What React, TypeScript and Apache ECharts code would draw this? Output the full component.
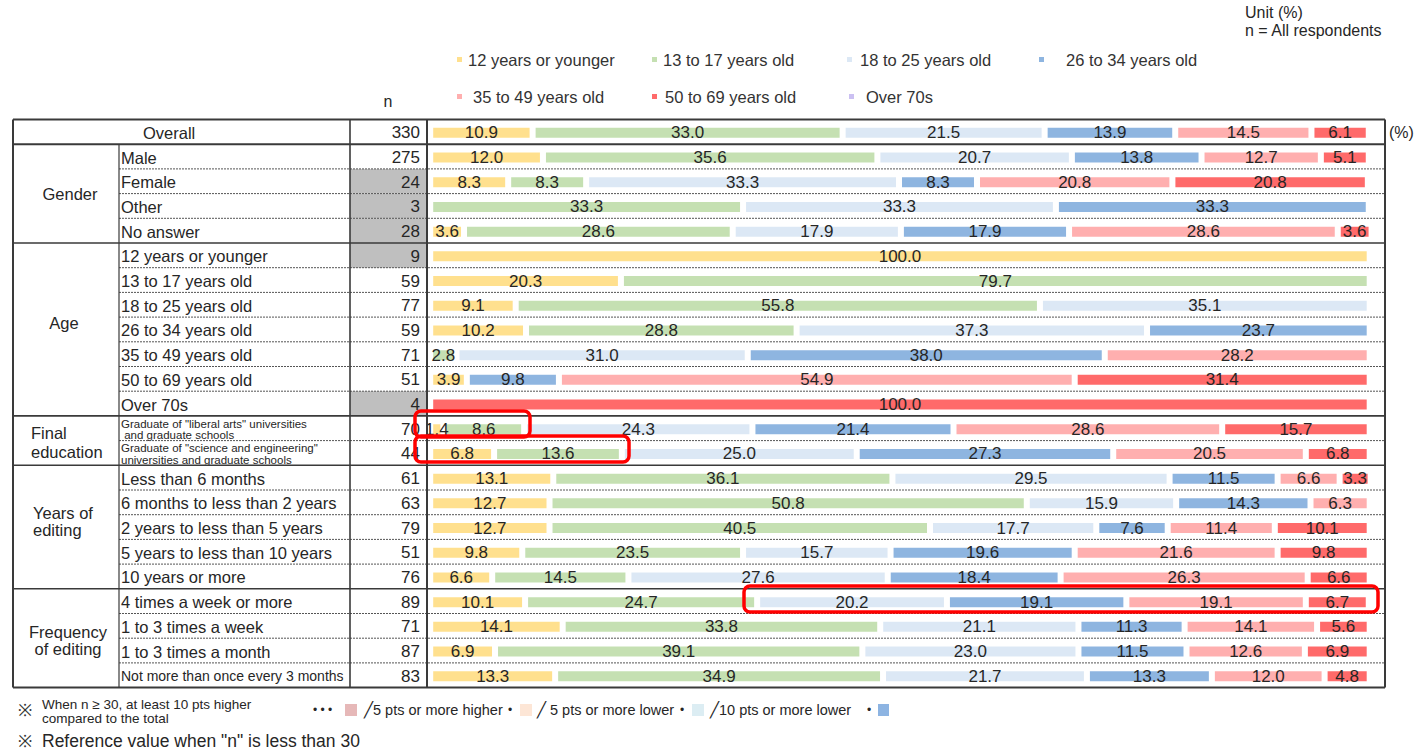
import React, { useEffect, useRef } from "react";
import * as echarts from "echarts";

const CATEGORIES = [
  "Overall",
  "Male",
  "Female",
  "Other",
  "No answer",
  "12 years or younger",
  "13 to 17 years old",
  "18 to 25 years old",
  "26 to 34 years old",
  "35 to 49 years old",
  "50 to 69 years old",
  "Over 70s",
  'Graduate of "liberal arts" universities\n and graduate schools',
  'Graduate of "science and engineering"\nuniversities and graduate schools',
  "Less than 6 months",
  "6 months to less than 2 years",
  "2 years to less than 5 years",
  "5 years to less than 10 years",
  "10 years or more",
  "4 times a week or more",
  "1 to 3 times a week",
  "1 to 3 times a month",
  "Not more than once every 3 months",
];

const N_VALUES = [330, 275, 24, 3, 28, 9, 59, 77, 59, 71, 51, 4, 70, 44, 61, 63, 79, 51, 76, 89, 71, 87, 83];

const SERIES_NAMES = [
  "12 years or younger",
  "13 to 17 years old",
  "18 to 25 years old",
  "26 to 34 years old",
  "35 to 49 years old",
  "50 to 69 years old",
  "Over 70s",
];

const AGE_12 = [10.9, 12.0, 8.3, null, 3.6, 100.0, 20.3, 9.1, 10.2, null, 3.9, null, 1.4, 6.8, 13.1, 12.7, 12.7, 9.8, 6.6, 10.1, 14.1, 6.9, 13.3];
const AGE_13 = [33.0, 35.6, 8.3, 33.3, 28.6, null, 79.7, 55.8, 28.8, 2.8, null, null, 8.6, 13.6, 36.1, 50.8, 40.5, 23.5, 14.5, 24.7, 33.8, 39.1, 34.9];
const AGE_18 = [21.5, 20.7, 33.3, 33.3, 17.9, null, null, 35.1, 37.3, 31.0, null, null, 24.3, 25.0, 29.5, 15.9, 17.7, 15.7, 27.6, 20.2, 21.1, 23.0, 21.7];
const AGE_26 = [13.9, 13.8, 8.3, 33.3, 17.9, null, null, null, 23.7, 38.0, 9.8, null, 21.4, 27.3, 11.5, 14.3, 7.6, 19.6, 18.4, 19.1, 11.3, 11.5, 13.3];
const AGE_35 = [14.5, 12.7, 20.8, null, 28.6, null, null, null, null, 28.2, 54.9, null, 28.6, 20.5, 6.6, 6.3, 11.4, 21.6, 26.3, 19.1, 14.1, 12.6, 12.0];
const AGE_50 = [6.1, 5.1, 20.8, null, 3.6, null, null, null, null, null, 31.4, 100.0, 15.7, 6.8, 3.3, null, 10.1, 9.8, 6.6, 6.7, 5.6, 6.9, 4.8];
const AGE_70 = [null, null, null, null, null, null, null, null, null, null, null, null, null, null, null, null, null, null, null, null, null, null, null];

const SERIES_DATA = [AGE_12, AGE_13, AGE_18, AGE_26, AGE_35, AGE_50, AGE_70];
const COLORS = ["#ffe08e", "#c5e0b2", "#dce8f5", "#8eb5e0", "#ffafaf", "#ff6a6a", "#cbc0f2"];

const GREY_N_ROWS = [2, 3, 4, 5, 11];

const FONT = "'Liberation Sans', Arial, Helvetica, sans-serif";

// layout
const TABLE_TOP = 119.5;
const ROW_H = 24.7;
const ROWS = CATEGORIES.length;
const TABLE_BOTTOM = TABLE_TOP + ROW_H * ROWS;
const X_LEFT = 13;
const X_COL1 = 119;
const X_COL2 = 350;
const X_COL3 = 427;
const X_RIGHT = 1385;
const GRID_LEFT = 430.2;
const X_MAX = 102;
const GRID_W = X_MAX * 9.395;

const rowY = (i: number) => TABLE_TOP + i * ROW_H;

export default function App() {
  const ref = useRef<HTMLDivElement>(null);

  useEffect(() => {
    document.body.style.margin = "0";
    if (!ref.current) return;
    const chart = echarts.init(ref.current, undefined, { renderer: "svg" });

    const series = SERIES_NAMES.map((name, si) => ({
      type: "bar",
      name,
      stack: "total",
      yAxisIndex: 0,
      barWidth: 16,
      data: SERIES_DATA[si],
      itemStyle: { color: COLORS[si], borderColor: "#ffffff", borderWidth: 3 },
      label: {
        show: true,
        position: "inside",
        color: "#262626",
        fontSize: 17,
        fontFamily: FONT,
        formatter: (p: any) => (p.value == null ? "" : Number(p.value).toFixed(1)),
      },
      emphasis: { disabled: true },
      silent: true,
    }));

    const legendPos = [
      { left: 455, top: 51, pad: 0 },
      { left: 650, top: 51, pad: 0 },
      { left: 845, top: 51, pad: 2 },
      { left: 1037, top: 51, pad: 16 },
      { left: 455, top: 88, pad: 5 },
      { left: 650, top: 88, pad: 2 },
      { left: 847, top: 88, pad: 6 },
    ];
    const legends = SERIES_NAMES.map((name, i) => ({
      data: [name],
      left: legendPos[i].left,
      top: legendPos[i].top,
      padding: 0,
      icon: "rect",
      itemWidth: 7,
      itemHeight: 7,
      selectedMode: false,
      textStyle: {
        fontSize: 16.5,
        color: "#333",
        fontFamily: FONT,
        padding: [0, 0, 0, legendPos[i].pad],
      },
    }));

    const graphics: any[] = [];

    // grey n cells
    GREY_N_ROWS.forEach((r) => {
      graphics.push({
        type: "rect",
        shape: { x: X_COL2, y: rowY(r), width: X_COL3 - X_COL2, height: ROW_H },
        style: { fill: "#bfbfbf" },
        z: 0,
      });
    });

    // horizontal lines
    const solidRows = [5, 12, 14, 19];
    for (let i = 0; i <= ROWS; i++) {
      const y = rowY(i);
      if (i === 0 || i === 1 || i === ROWS) {
        graphics.push({
          type: "line",
          shape: { x1: X_LEFT, y1: y, x2: X_RIGHT, y2: y },
          style: { stroke: "#3a3a3a", lineWidth: 2 },
          z: 5,
        });
      } else if (solidRows.includes(i)) {
        graphics.push({
          type: "line",
          shape: { x1: X_LEFT, y1: y, x2: X_RIGHT, y2: y },
          style: { stroke: "#3a3a3a", lineWidth: 1.6 },
          z: 5,
        });
      } else {
        graphics.push({
          type: "line",
          shape: { x1: X_COL1, y1: y, x2: X_RIGHT, y2: y },
          style: { stroke: "#555", lineWidth: 1, lineDash: [2, 1] },
          z: 5,
        });
      }
    }

    // vertical lines
    const vlines = [
      { x: X_LEFT, y1: rowY(0), w: 2 },
      { x: X_COL1, y1: rowY(1), w: 1.2 },
      { x: X_COL2, y1: rowY(0), w: 1.6 },
      { x: X_COL3, y1: rowY(0), w: 2 },
      { x: X_RIGHT, y1: rowY(0), w: 2 },
    ];
    vlines.forEach((v) => {
      graphics.push({
        type: "line",
        shape: { x1: v.x, y1: v.y1, x2: v.x, y2: TABLE_BOTTOM },
        style: { stroke: "#3a3a3a", lineWidth: v.w },
        z: 5,
      });
    });

    const txt = (text: string, x: number, y: number, opts: any = {}) => ({
      type: "text",
      x,
      y,
      z: 6,
      style: {
        text,
        fill: "#262626",
        fontSize: 16,
        fontFamily: FONT,
        align: "left",
        verticalAlign: "middle",
        ...opts,
      },
    });

    // group labels
    graphics.push(txt("Gender", 70, (rowY(1) + rowY(5)) / 2, { align: "center", fontSize: 16.5 }));
    graphics.push(txt("Age", 64, (rowY(5) + rowY(12)) / 2 - 6, { align: "center", fontSize: 16.5 }));
    graphics.push(txt("Final\neducation", 31, (rowY(12) + rowY(14)) / 2 + 2, { lineHeight: 19, fontSize: 16.5 }));
    graphics.push(txt("Years of\nediting", 33, (rowY(14) + rowY(19)) / 2 - 6, { lineHeight: 17, fontSize: 16.5 }));
    graphics.push(txt("Frequency\nof editing", 68, (rowY(19) + rowY(23)) / 2 + 2, { align: "center", lineHeight: 17, fontSize: 16.5 }));

    // headers
    graphics.push(txt("n", 388, 101, { align: "center" }));
    graphics.push(txt("Unit (%)", 1245, 12, { fontSize: 16 }));
    graphics.push(txt("n = All respondents", 1245, 30, { fontSize: 16 }));
    graphics.push(txt("(%)", 1389, 132, { fontSize: 16 }));

    // footer
    graphics.push(txt("※", 18, 710, { fontSize: 17, fill: "#333" }));
    graphics.push(txt("When n ≥ 30, at least 10 pts higher\ncompared to the total", 42, 711.5, { fontSize: 13.5, lineHeight: 14 }));
    graphics.push(txt("※", 18, 741, { fontSize: 17, fill: "#333" }));
    graphics.push(txt('Reference value when "n" is less than 30', 42, 741, { fontSize: 17.5 }));

    graphics.push(txt("• • •", 313, 710, { fontSize: 12 }));
    graphics.push({ type: "rect", shape: { x: 345, y: 704, width: 12, height: 12 }, style: { fill: "#e6b8b8" }, z: 6 });
    graphics.push(txt("╱5 pts or more higher", 364, 710, { fontSize: 14.5 }));
    graphics.push(txt("•", 508, 710, { fontSize: 12 }));
    graphics.push({ type: "rect", shape: { x: 520, y: 704, width: 12, height: 12 }, style: { fill: "#fde6d6" }, z: 6 });
    graphics.push(txt("╱ 5 pts or more lower", 537, 710, { fontSize: 14.5 }));
    graphics.push(txt("•", 680, 710, { fontSize: 12 }));
    graphics.push({ type: "rect", shape: { x: 692, y: 704, width: 12, height: 12 }, style: { fill: "#dcedf3" }, z: 6 });
    graphics.push(txt("╱10 pts or more lower", 710, 710, { fontSize: 14.5 }));
    graphics.push(txt("•", 867, 710, { fontSize: 12 }));
    graphics.push({ type: "rect", shape: { x: 878, y: 704, width: 11, height: 12 }, style: { fill: "#8db4e2" }, z: 6 });

    // highlight boxes
    const boxes = [
      { x: 415, y: 411, w: 115, h: 26 },
      { x: 415, y: 436, w: 214, h: 26 },
      { x: 744, y: 586, w: 634, h: 26 },
    ];
    boxes.forEach((b) => {
      graphics.push({
        type: "rect",
        shape: { x: b.x, y: b.y, width: b.w, height: b.h, r: 6 },
        style: { fill: "none", stroke: "#ff0000", lineWidth: 3.5 },
        z: 20,
      });
    });

    const itemLabelFormatter = (value: string, idx: number) => {
      if (idx === 0) return "{ov|" + value + "}";
      if (idx === 12 || idx === 13) {
        return value
          .split("\n")
          .map((l) => "{sm|" + l + "}")
          .join("\n");
      }
      if (idx === 22) return "{xs|" + value + "}";
      return "{lb|" + value + "}";
    };

    const option: any = {
      animation: false,
      backgroundColor: "#ffffff",
      legend: legends,
      grid: {
        left: GRID_LEFT,
        top: TABLE_TOP + 1,
        width: GRID_W,
        height: ROW_H * ROWS,
        containLabel: false,
      },
      xAxis: {
        type: "value",
        min: 0,
        max: X_MAX,
        show: false,
      },
      yAxis: [
        {
          type: "category",
          data: CATEGORIES,
          inverse: true,
          position: "left",
          axisLine: { show: false },
          axisTick: { show: false },
          splitLine: { show: false },
          axisLabel: {
            interval: 0,
            margin: GRID_LEFT - 121,
            align: "left",
            formatter: itemLabelFormatter,
            rich: {
              ov: { fontSize: 16.5, fontFamily: FONT, color: "#262626", padding: [0, 0, 0, 22] },
              lb: { fontSize: 16.5, fontFamily: FONT, color: "#262626" },
              sm: { fontSize: 11.5, fontFamily: FONT, color: "#262626", lineHeight: 11.5 },
              xs: { fontSize: 14, fontFamily: FONT, color: "#262626" },
            },
          },
        },
        {
          type: "category",
          data: CATEGORIES,
          inverse: true,
          position: "left",
          offset: 0,
          axisLine: { show: false },
          axisTick: { show: false },
          splitLine: { show: false },
          axisLabel: {
            interval: 0,
            margin: GRID_LEFT - 420,
            align: "right",
            fontSize: 17,
            fontFamily: FONT,
            color: "#262626",
            formatter: (_v: string, idx: number) => String(N_VALUES[idx]),
          },
        },
      ],
      series,
      graphic: graphics,
    };

    chart.setOption(option);
    return () => chart.dispose();
  }, []);

  return <div ref={ref} style={{ width: 1421, height: 751 }} />;
}
